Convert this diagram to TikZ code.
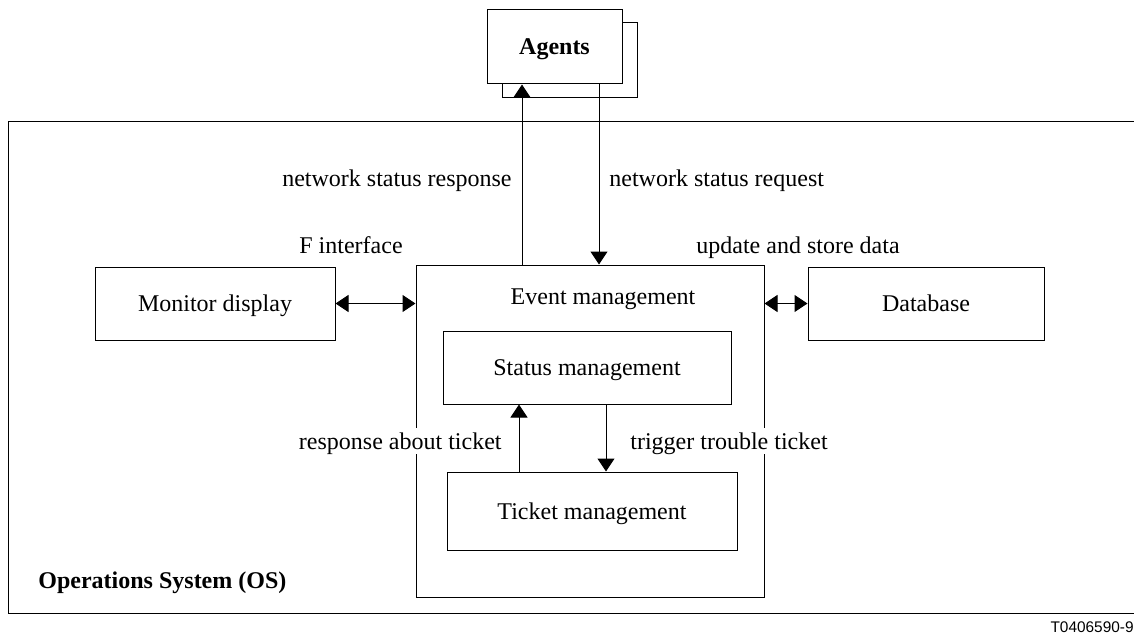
\documentclass[tikz,border=0pt]{standalone}
\usepackage{fontspec}
\setmainfont{Liberation Serif}
\setsansfont{Liberation Sans}
\usetikzlibrary{arrows.meta}

\begin{document}
\begin{tikzpicture}[x=0.5pt,y=-0.5pt,
        box/.style={draw,line width=0.5pt,fill=white,inner sep=0pt},
        lbl/.style={font=\fontsize{12}{14}\selectfont,inner sep=0pt,text depth=0pt},
        arr/.style={line width=0.5pt,-{Triangle[length=6.5pt,width=8.5pt]}},
        darr/.style={line width=0.5pt,{Triangle[length=6.5pt,width=8.5pt]}-{Triangle[length=6.5pt,width=8.5pt]}}]
    \useasboundingbox (0,0) rectangle (1134,642);
    % operations system frame, open on the right
    \draw[line width=0.5pt] (1134,122) -| (8,613) -- (1134,613);
    \node[lbl,anchor=west,font=\fontsize{12}{14}\selectfont\bfseries] (os) at (38,580) {Operations System (OS)};
    % agents (stacked)
    \node[box,minimum width=67.5pt,minimum height=37.5pt] (agentsback) at (569.5,60.5) {};
    \node[box,lbl,minimum width=67.5pt,minimum height=37pt,font=\fontsize{12}{14}\selectfont\bfseries] (agents) at (554.5,47) {Agents};
    % blocks
    \node[box,lbl,minimum width=120pt,minimum height=36.5pt] (monitor) at (215,303.5) {Monitor display};
    \node[box,minimum width=174pt,minimum height=166pt] (event) at (590,431) {};
    \node[lbl,anchor=north] (eventlbl) at ([xshift=6.5pt,yshift=-12pt]event.north) {Event management};
    \node[box,lbl,minimum width=118pt,minimum height=36.5pt] (database) at (926,303.5) {Database};
    \node[box,lbl,minimum width=144pt,minimum height=36.5pt] (status) at (587,367.5) {Status management};
    \node[box,lbl,minimum width=145pt,minimum height=39pt] (ticket) at (592,511) {Ticket management};
    % connectors
    \draw[arr] ([xshift=-34pt]event.north) -- ([xshift=-34pt]event.north |- agents.south);
    \draw[arr] ([xshift=22.25pt]agents.south) -- ([xshift=22.25pt]agents.south |- event.north);
    \draw[darr] (monitor.east) -- (event.west |- monitor.east);
    \draw[darr] (event.east |- database.west) -- (database.west);
    \draw[arr] ([xshift=-36.5pt]ticket.north) -- ([xshift=-36.5pt]ticket.north |- status.south);
    \draw[arr] ([xshift=9.5pt]status.south) -- ([xshift=9.5pt]status.south |- ticket.north);
    % labels
    \node[lbl,anchor=east] (resp) at (512,178) {network status response};
    \node[lbl,anchor=west] (req) at (609,178) {network status request};
    \node[lbl] (fif) at (351,245) {F interface};
    \node[lbl] (store) at (798,245) {update and store data};
    \node[lbl,anchor=east,fill=white,inner ysep=2.5pt] (about) at (502,441) {response about ticket};
    \node[lbl,anchor=west,fill=white,inner ysep=2.5pt] (trigger) at (630,441) {trigger trouble ticket};
    \node[anchor=east,inner sep=0pt,font=\sffamily\fontsize{7.7}{9}\selectfont] (code) at (1134,627) {T0406590-9};
\end{tikzpicture}
\end{document}
